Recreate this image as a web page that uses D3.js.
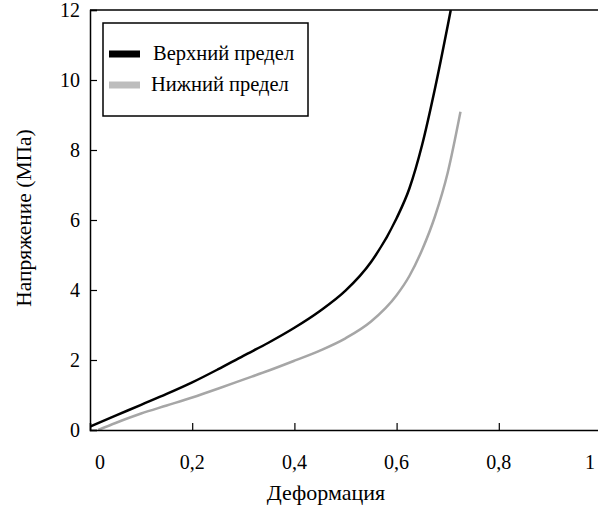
<!DOCTYPE html>
<html>
<head>
<meta charset="utf-8">
<script src="https://cdn.jsdelivr.net/npm/d3@7"></script>
<style>
  body { margin: 0; background: #fff; }
  svg text { font-family: Times, "Liberation Serif", "DejaVu Serif", serif; }
</style>
</head>
<body>
<div id="chart"></div>
<script>
// strain values and stress (MPa) for both limits
const upperStrain = [0, 0.05, 0.1, 0.15, 0.2, 0.25, 0.3, 0.35, 0.4, 0.45, 0.5, 0.55, 0.6, 0.625, 0.65, 0.675, 0.7, 0.706];
const upperStress = [0.1, 0.41, 0.72, 1.03, 1.36, 1.73, 2.12, 2.5, 2.92, 3.4, 3.98, 4.8, 6.05, 6.9, 8.15, 9.75, 11.55, 12];
const lowerStrain = [0.016, 0.05, 0.1, 0.15, 0.2, 0.25, 0.3, 0.35, 0.4, 0.45, 0.5, 0.55, 0.6, 0.625, 0.65, 0.675, 0.7, 0.725];
const lowerStress = [0, 0.2, 0.47, 0.7, 0.93, 1.18, 1.44, 1.7, 1.98, 2.27, 2.62, 3.1, 3.85, 4.4, 5.15, 6.1, 7.35, 9.09];

const seriesNames = ['Верхний предел', 'Нижний предел'];
const xTicks = [0, 0.2, 0.4, 0.6, 0.8, 1];
const yTicks = [0, 2, 4, 6, 8, 10, 12];

const width = 598;
const height = 513;
const margin = { top: 10, left: 90, bottom: 83 };

const svg = d3.select('#chart')
  .append('svg')
  .attr('width', width)
  .attr('height', height);

const x = d3.scaleLinear().domain([0, 1]).range([margin.left, 601]);
const y = d3.scaleLinear().domain([0, 12]).range([height - margin.bottom, margin.top]);

svg.append('defs').append('clipPath')
  .attr('id', 'plot-clip')
  .append('rect')
  .attr('x', margin.left).attr('y', margin.top)
  .attr('width', width - margin.left).attr('height', y(0) - margin.top);

const line = d3.line()
  .x(d => x(d[0]))
  .y(d => y(d[1]))
  .curve(d3.curveMonotoneX);

const upper = upperStrain.map((s, i) => [s, upperStress[i]]);
const lower = lowerStrain.map((s, i) => [s, lowerStress[i]]);

const plot = svg.append('g').attr('clip-path', 'url(#plot-clip)');
plot.append('path')
  .datum(lower)
  .attr('d', line)
  .attr('fill', 'none')
  .attr('stroke', '#a6a6a6')
  .attr('stroke-width', 2.5);
plot.append('path')
  .datum(upper)
  .attr('d', line)
  .attr('fill', 'none')
  .attr('stroke', '#000')
  .attr('stroke-width', 2.5);

// axes: ticks point inward, labels drawn separately
const xAxis = svg.append('g')
  .attr('transform', `translate(0,${y(0)})`)
  .call(d3.axisTop(x).tickValues(xTicks).tickSize(7).tickFormat(''));
const yAxis = svg.append('g')
  .attr('transform', `translate(${margin.left},0)`)
  .call(d3.axisRight(y).tickValues(yTicks).tickSize(7).tickFormat(''));
[xAxis, yAxis].forEach(g => {
  g.select('.domain').attr('stroke-width', 1.5);
  g.selectAll('.tick line').attr('stroke-width', 1.2);
});

// top border
svg.append('line')
  .attr('x1', margin.left).attr('x2', width)
  .attr('y1', margin.top).attr('y2', margin.top)
  .attr('stroke', '#000').attr('stroke-width', 1.5);

const fmt = v => String(v).replace('.', ',');
svg.selectAll('.xlab')
  .data(xTicks)
  .enter()
  .append('text')
  .attr('x', d => x(d) + (d === 0 ? 10 : d === 1 ? -11 : 0))
  .attr('y', 469)
  .attr('text-anchor', 'middle')
  .attr('font-size', 20)
  .text(fmt);

svg.selectAll('.ylab')
  .data(yTicks)
  .enter()
  .append('text')
  .attr('x', 80)
  .attr('y', d => y(d))
  .attr('dy', '0.35em')
  .attr('text-anchor', 'end')
  .attr('font-size', 20)
  .text(d => d);

svg.append('text')
  .attr('x', 326)
  .attr('y', 500)
  .attr('text-anchor', 'middle')
  .attr('font-size', 22)
  .text('Деформация');

svg.append('text')
  .attr('transform', 'translate(31,218) rotate(-90)')
  .attr('text-anchor', 'middle')
  .attr('font-size', 21.5)
  .text('Напряжение (МПа)');

// legend
const legend = svg.append('g');
legend.append('rect')
  .attr('x', 103).attr('y', 23)
  .attr('width', 205).attr('height', 93)
  .attr('fill', '#fff')
  .attr('stroke', '#000')
  .attr('stroke-width', 1.5);
const legendColors = ['#000', '#bdbdbd'];
seriesNames.forEach((name, i) => {
  const ly = 54 + i * 31;
  legend.append('rect')
    .attr('x', 109).attr('y', ly - 3.5)
    .attr('width', 31).attr('height', 7)
    .attr('fill', legendColors[i]);
  legend.append('text')
    .attr('x', i === 0 ? 153 : 151)
    .attr('y', ly)
    .attr('dy', '0.3em')
    .attr('font-size', 20.5)
    .text(name);
});
</script>
</body>
</html>
